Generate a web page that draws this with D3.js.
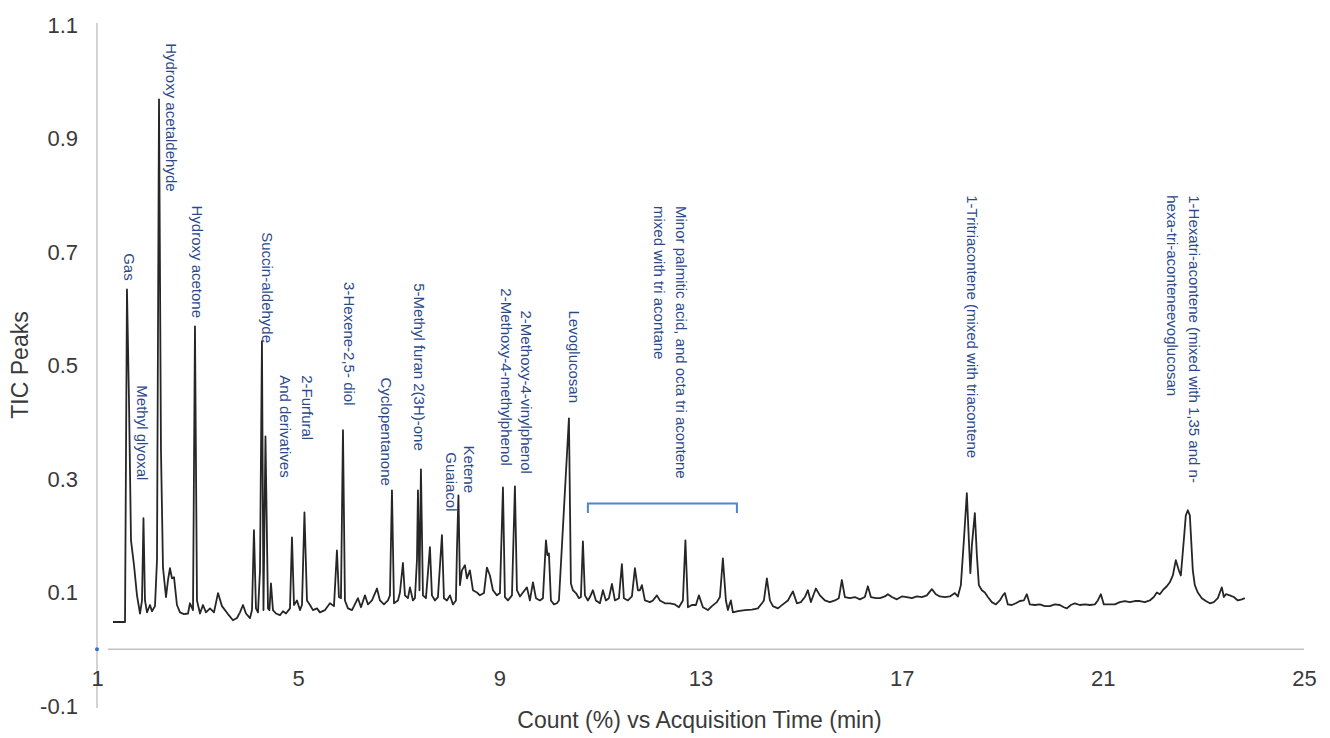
<!DOCTYPE html>
<html>
<head>
<meta charset="utf-8">
<script src="https://cdn.jsdelivr.net/npm/d3@7"></script>
<style>
  body { margin: 0; background: #fff; }
  svg { display: block; font-family: "Liberation Sans", Arial, sans-serif; }
</style>
</head>
<body>
<svg id="chart" width="1330" height="738"></svg>
<script>
// TIC chromatogram (time in min, count as fraction)
const retentionTime = [
  1.318, 1.557, 1.596, 1.636, 1.676, 1.736, 1.795, 1.855, 1.895, 1.924,
  1.954, 1.994, 2.054, 2.093, 2.153, 2.193, 2.233, 2.272, 2.312, 2.372,
  2.412, 2.451, 2.491, 2.531, 2.590, 2.650, 2.730, 2.809, 2.849, 2.909,
  2.948, 2.988, 3.048, 3.107, 3.167, 3.247, 3.326, 3.406, 3.485, 3.604,
  3.704, 3.783, 3.843, 3.903, 3.962, 4.042, 4.082, 4.121, 4.161, 4.201,
  4.241, 4.280, 4.310, 4.350, 4.400, 4.429, 4.459, 4.499, 4.559, 4.638,
  4.698, 4.757, 4.837, 4.877, 4.917, 4.976, 5.036, 5.076, 5.125, 5.175,
  5.235, 5.294, 5.374, 5.433, 5.533, 5.632, 5.712, 5.771, 5.811, 5.851,
  5.891, 5.930, 5.990, 6.070, 6.149, 6.189, 6.249, 6.328, 6.388, 6.467,
  6.567, 6.626, 6.706, 6.785, 6.825, 6.865, 6.905, 6.984, 7.024, 7.083,
  7.123, 7.183, 7.223, 7.282, 7.322, 7.362, 7.382, 7.412, 7.441, 7.481,
  7.541, 7.620, 7.660, 7.720, 7.779, 7.859, 7.899, 7.958, 8.018, 8.078,
  8.137, 8.157, 8.187, 8.217, 8.256, 8.316, 8.356, 8.415, 8.475, 8.555,
  8.614, 8.694, 8.753, 8.813, 8.873, 8.952, 9.012, 9.072, 9.111, 9.171,
  9.251, 9.310, 9.350, 9.410, 9.469, 9.549, 9.608, 9.668, 9.728, 9.807,
  9.867, 9.927, 9.956, 9.986, 10.026, 10.086, 10.145, 10.185, 10.384, 10.423,
  10.463, 10.523, 10.583, 10.622, 10.662, 10.702, 10.761, 10.801, 10.861, 10.920,
  11.000, 11.060, 11.119, 11.179, 11.239, 11.298, 11.378, 11.437, 11.477, 11.557,
  11.636, 11.696, 11.755, 11.795, 11.835, 11.895, 11.994, 12.054, 12.133, 12.193,
  12.292, 12.392, 12.491, 12.571, 12.650, 12.700, 12.750, 12.829, 12.909, 12.968,
  13.048, 13.147, 13.227, 13.326, 13.386, 13.445, 13.505, 13.545, 13.584, 13.604,
  13.644, 13.744, 13.883, 14.022, 14.141, 14.221, 14.261, 14.320, 14.380, 14.439,
  14.539, 14.638, 14.738, 14.837, 14.917, 14.996, 15.076, 15.135, 15.195, 15.235,
  15.294, 15.374, 15.473, 15.572, 15.672, 15.751, 15.811, 15.871, 15.970, 16.070,
  16.169, 16.268, 16.328, 16.388, 16.487, 16.567, 16.666, 16.726, 16.805, 16.905,
  17.004, 17.103, 17.203, 17.302, 17.402, 17.501, 17.600, 17.680, 17.759, 17.859,
  17.958, 18.058, 18.117, 18.177, 18.237, 18.296, 18.336, 18.366, 18.396, 18.455,
  18.495, 18.535, 18.594, 18.654, 18.714, 18.793, 18.873, 18.952, 19.012, 19.052,
  19.111, 19.191, 19.270, 19.350, 19.430, 19.489, 19.549, 19.648, 19.748, 19.847,
  19.946, 20.046, 20.145, 20.225, 20.285, 20.364, 20.444, 20.543, 20.642, 20.742,
  20.841, 20.901, 20.961, 21.020, 21.140, 21.239, 21.338, 21.438, 21.537, 21.636,
  21.736, 21.835, 21.934, 22.014, 22.074, 22.133, 22.193, 22.272, 22.332, 22.392,
  22.451, 22.511, 22.551, 22.610, 22.650, 22.690, 22.730, 22.789, 22.829, 22.888,
  22.968, 23.048, 23.128, 23.207, 23.287, 23.327, 23.366, 23.406, 23.446, 23.525,
  23.605, 23.684, 23.764, 23.823
];

const ticCount = [
  0.048, 0.048, 0.634, 0.439, 0.192, 0.148, 0.095, 0.063, 0.086, 0.231,
  0.086, 0.065, 0.078, 0.067, 0.076, 0.157, 0.969, 0.351, 0.144, 0.092,
  0.122, 0.143, 0.125, 0.127, 0.078, 0.065, 0.062, 0.063, 0.081, 0.069,
  0.569, 0.086, 0.063, 0.078, 0.065, 0.072, 0.065, 0.099, 0.076, 0.062,
  0.051, 0.055, 0.065, 0.078, 0.063, 0.055, 0.069, 0.210, 0.072, 0.065,
  0.139, 0.543, 0.069, 0.375, 0.072, 0.069, 0.116, 0.069, 0.063, 0.060,
  0.067, 0.063, 0.072, 0.197, 0.078, 0.086, 0.069, 0.078, 0.241, 0.086,
  0.078, 0.069, 0.072, 0.065, 0.069, 0.081, 0.076, 0.174, 0.092, 0.090,
  0.386, 0.086, 0.072, 0.069, 0.083, 0.090, 0.074, 0.095, 0.079, 0.086,
  0.107, 0.086, 0.079, 0.086, 0.095, 0.280, 0.081, 0.086, 0.100, 0.152,
  0.095, 0.090, 0.109, 0.086, 0.090, 0.157, 0.280, 0.104, 0.317, 0.095,
  0.090, 0.180, 0.095, 0.086, 0.092, 0.201, 0.090, 0.086, 0.095, 0.079,
  0.086, 0.174, 0.271, 0.113, 0.139, 0.148, 0.125, 0.139, 0.104, 0.100,
  0.095, 0.099, 0.144, 0.130, 0.104, 0.095, 0.099, 0.285, 0.092, 0.086,
  0.095, 0.287, 0.104, 0.093, 0.100, 0.109, 0.086, 0.118, 0.090, 0.086,
  0.090, 0.192, 0.166, 0.169, 0.086, 0.079, 0.081, 0.086, 0.407, 0.116,
  0.104, 0.099, 0.090, 0.092, 0.190, 0.095, 0.086, 0.092, 0.104, 0.086,
  0.081, 0.104, 0.086, 0.090, 0.115, 0.086, 0.090, 0.150, 0.090, 0.086,
  0.093, 0.143, 0.104, 0.104, 0.113, 0.086, 0.083, 0.086, 0.095, 0.086,
  0.081, 0.081, 0.079, 0.074, 0.086, 0.192, 0.074, 0.078, 0.078, 0.095,
  0.074, 0.069, 0.076, 0.083, 0.092, 0.160, 0.086, 0.069, 0.081, 0.086,
  0.065, 0.067, 0.069, 0.070, 0.072, 0.081, 0.086, 0.125, 0.086, 0.076,
  0.072, 0.079, 0.086, 0.102, 0.081, 0.083, 0.092, 0.104, 0.083, 0.093,
  0.107, 0.095, 0.086, 0.083, 0.086, 0.090, 0.122, 0.092, 0.090, 0.092,
  0.088, 0.092, 0.111, 0.092, 0.090, 0.090, 0.093, 0.097, 0.092, 0.088,
  0.093, 0.092, 0.090, 0.093, 0.092, 0.095, 0.106, 0.097, 0.093, 0.092,
  0.093, 0.099, 0.093, 0.113, 0.192, 0.275, 0.192, 0.134, 0.183, 0.240,
  0.166, 0.113, 0.104, 0.100, 0.092, 0.083, 0.079, 0.086, 0.095, 0.099,
  0.079, 0.078, 0.081, 0.085, 0.086, 0.097, 0.079, 0.078, 0.079, 0.076,
  0.076, 0.079, 0.078, 0.074, 0.072, 0.078, 0.081, 0.078, 0.079, 0.078,
  0.079, 0.086, 0.097, 0.079, 0.079, 0.079, 0.083, 0.085, 0.083, 0.085,
  0.085, 0.083, 0.086, 0.092, 0.100, 0.097, 0.104, 0.111, 0.118, 0.130,
  0.157, 0.139, 0.130, 0.192, 0.236, 0.245, 0.236, 0.139, 0.113, 0.100,
  0.090, 0.085, 0.081, 0.083, 0.090, 0.100, 0.109, 0.092, 0.097, 0.095,
  0.092, 0.086, 0.088, 0.090
];

const xTicks = [1, 5, 9, 13, 17, 21, 25];
const yTicks = [-0.1, 0.1, 0.3, 0.5, 0.7, 0.9, 1.1];

// compound labels (lines), anchored at a time and the value where the text starts
const labelLines = [
  ["Gas"],
  ["Methyl glyoxal"],
  ["Hydroxy acetaldehyde"],
  ["Hydroxy acetone"],
  ["Succin-aldehyde"],
  ["2-Furfural", "And derivatives"],
  ["3-Hexene-2,5- diol"],
  ["Cyclopentanone"],
  ["5-Methyl furan 2(3H)-one"],
  ["Guaiacol"],
  ["Ketene"],
  ["2-Methoxy-4-methylphenol"],
  ["2-Methoxy-4-vinylphenol"],
  ["Levoglucosan"],
  ["Minor palmitic acid, and octa tri acontene", "mixed with tri acontane"],
  ["1-Tritriacontene (mixed with triacontene"],
  ["1-Hexatri-acontene (mixed with 1,35 and n-", "hexa-tri-aconteneevoglucosan"]
];
const labelTime = [1.656, 1.915, 2.491, 3.008, 4.400, 5.195, 6.024, 6.765, 7.421,
                   8.058, 8.416, 9.151, 9.549, 10.503, 12.630, 18.416, 22.829];
const labelTop = [0.698, 0.465, 1.068, 0.782, 0.735, 0.483, 0.647, 0.479, 0.645,
                  0.347, 0.359, 0.636, 0.597, 0.597, 0.781, 0.800, 0.800];

// bracket over the minor-compound region
const bracketTimes = [10.761, 13.724];
const bracketLevels = [0.240, 0.257];

const svg = d3.select("#chart");

const x = d3.scaleLinear().domain([1, 25]).range([97, 1304]);
const y = d3.scaleLinear().domain([-0.1, 1.1]).range([706, 25]);

const axisColor = "#c4c4c4";
const textColor = "#3a3a3a";
const labelColor = "#2c4a8a";

// y axis line
svg.append("line")
  .attr("x1", x(1)).attr("x2", x(1))
  .attr("y1", y(1.1) - 2).attr("y2", y(-0.1) + 2)
  .attr("stroke", axisColor).attr("stroke-width", 1.5);

// zero line
svg.append("line")
  .attr("x1", x(1) + 11).attr("x2", x(25))
  .attr("y1", y(0)).attr("y2", y(0))
  .attr("stroke", axisColor).attr("stroke-width", 1.5);

svg.append("circle")
  .attr("cx", x(1)).attr("cy", y(0)).attr("r", 2)
  .attr("fill", "#2f6fd6");

const yAxis = svg.append("g")
  .attr("transform", `translate(${x(1)},0)`)
  .call(d3.axisLeft(y).tickValues(yTicks).tickSize(0).tickPadding(19)
    .tickFormat(d => d.toFixed(1)));

const xAxis = svg.append("g")
  .attr("transform", `translate(0,${y(0)})`)
  .call(d3.axisBottom(x).tickValues(xTicks).tickSize(0).tickPadding(21)
    .tickFormat(d => String(d)));

[yAxis, xAxis].forEach(g => {
  g.select(".domain").remove();
  g.selectAll("text")
    .attr("font-size", 22)
    .attr("font-family", "'Liberation Sans', Arial, sans-serif")
    .attr("fill", textColor);
});

// axis titles
svg.append("text")
  .attr("transform", `translate(20,365) rotate(-90)`)
  .attr("text-anchor", "middle")
  .attr("dominant-baseline", "central")
  .attr("font-size", 23)
  .attr("fill", textColor)
  .text("TIC Peaks");

svg.append("text")
  .attr("x", (x(1) + x(25)) / 2 - 1)
  .attr("y", 728)
  .attr("text-anchor", "middle")
  .attr("font-size", 23)
  .attr("fill", textColor)
  .text("Count (%) vs Acquisition Time (min)");

// chromatogram trace
const points = d3.zip(retentionTime, ticCount);
const line = d3.line()
  .x(d => x(d[0]))
  .y(d => y(d[1]));

svg.append("path")
  .datum(points)
  .attr("fill", "none")
  .attr("stroke", "#262626")
  .attr("stroke-width", 1.8)
  .attr("stroke-linejoin", "round")
  .attr("d", line);

// bracket
svg.append("path")
  .attr("fill", "none")
  .attr("stroke", "#4a86d8")
  .attr("stroke-width", 2)
  .attr("d", `M${x(bracketTimes[0])},${y(bracketLevels[0])}` +
             `V${y(bracketLevels[1])}H${x(bracketTimes[1])}V${y(bracketLevels[0])}`);

// rotated peak labels
const labels = svg.append("g")
  .selectAll("text")
  .data(labelLines)
  .enter()
  .append("text")
  .attr("transform", (d, i) => `translate(${x(labelTime[i])},${y(labelTop[i])}) rotate(90)`)
  .attr("dominant-baseline", "central")
  .attr("font-size", 15)
  .attr("fill", labelColor);

labels.selectAll("tspan")
  .data(d => d)
  .enter()
  .append("tspan")
  .attr("x", 0)
  .attr("dy", (d, i) => i === 0 ? 0 : 22)
  .text(d => d);
</script>
</body>
</html>
